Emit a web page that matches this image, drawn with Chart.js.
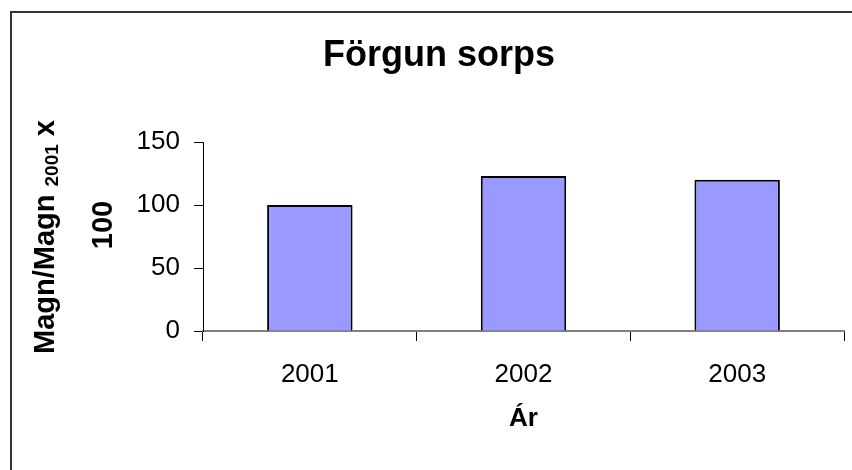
<!DOCTYPE html>
<html>
<head>
<meta charset="utf-8">
<script src="https://cdn.jsdelivr.net/npm/chart.js@4"></script>
<style>
  html, body { margin: 0; padding: 0; background: #fff; }
  #wrap { width: 852px; height: 470px; }
</style>
</head>
<body>
<div id="wrap"><canvas id="myChart" width="852" height="470"></canvas></div>
<script>
const years = ['2001', '2002', '2003'];
const values = [100, 123, 120];
const yTicks = [0, 50, 100, 150];

const chartTitle = 'Förgun sorps';
const xTitle = 'Ár';
const yTitleMain = 'Magn/Magn';
const yTitleSub = '2001';
const yTitleEnd = ' x';
const yTitleLine2 = '100';

const fontFamily = '"Liberation Sans", Arial, sans-serif';

// frame, title and the two-line rotated y title (it has a subscript)
const decorations = {
  id: 'decorations',
  beforeDraw(chart) {
    const ctx = chart.ctx;
    ctx.save();
    ctx.fillStyle = '#fff';
    ctx.fillRect(0, 0, chart.width, chart.height);
    ctx.strokeStyle = '#333';
    ctx.lineWidth = 2;
    ctx.beginPath();
    ctx.moveTo(11, chart.height + 5);
    ctx.lineTo(11, 12);
    ctx.lineTo(chart.width + 5, 12);
    ctx.stroke();
    ctx.restore();
  },
  afterDraw(chart) {
    const ctx = chart.ctx;
    ctx.save();
    ctx.fillStyle = '#000';
    ctx.textAlign = 'center';
    ctx.textBaseline = 'alphabetic';
    ctx.font = 'bold 36px ' + fontFamily;
    ctx.fillText(chartTitle, 439, 66);

    const bigFont = 'bold 29px ' + fontFamily;
    const subFont = 'bold 19px ' + fontFamily;
    ctx.font = bigFont;
    const w1 = ctx.measureText(yTitleMain + ' ').width;
    const w3 = ctx.measureText(yTitleEnd).width;
    ctx.font = subFont;
    const w2 = ctx.measureText(yTitleSub).width;
    const total = w1 + w2 + w3;

    ctx.translate(54, 237);
    ctx.rotate(-Math.PI / 2);
    ctx.textAlign = 'left';
    let x = -total / 2;
    ctx.font = bigFont;
    ctx.fillText(yTitleMain + ' ', x, 0);
    x += w1;
    ctx.font = subFont;
    ctx.fillText(yTitleSub, x, 4);
    x += w2;
    ctx.font = bigFont;
    ctx.fillText(yTitleEnd, x, 0);

    ctx.textAlign = 'center';
    ctx.fillText(yTitleLine2, 12, 58);
    ctx.restore();
  }
};

const ctx = document.getElementById('myChart').getContext('2d');
const chart = new Chart(ctx, {
  type: 'bar',
  data: {
    labels: years,
    datasets: [{
      data: values,
      backgroundColor: '#9999ff',
      borderColor: '#000',
      borderWidth: 2,
      categoryPercentage: 1,
      barPercentage: 0.4
    }]
  },
  options: {
    responsive: false,
    animation: false,
    layout: { padding: { left: 100, right: 8, top: 142, bottom: 0 } },
    plugins: {
      legend: { display: false },
      tooltip: { enabled: false }
    },
    scales: {
      x: {
        offset: true,
        grid: {
          offset: true,
          drawOnChartArea: false,
          drawTicks: true,
          tickLength: 10,
          color: '#000'
        },
        border: { color: '#808080', width: 2 },
        ticks: {
          color: '#000',
          padding: 18,
          font: { family: fontFamily, size: 26 }
        },
        title: {
          display: true,
          text: xTitle,
          color: '#000',
          padding: { top: 0, bottom: 36 },
          font: { family: fontFamily, size: 26, weight: 'bold' }
        },
        afterFit(scale) { scale.height = 139; }
      },
      y: {
        min: 0,
        max: 150,
        afterBuildTicks(scale) {
          scale.ticks = yTicks.map(v => ({ value: v }));
        },
        grid: {
          drawOnChartArea: false,
          drawTicks: true,
          tickLength: 9,
          color: '#000'
        },
        border: { color: '#000', width: 1 },
        ticks: {
          color: '#000',
          padding: 14,
          font: { family: fontFamily, size: 26 }
        },
        afterFit(scale) { scale.width = 103; }
      }
    }
  },
  plugins: [decorations]
});
</script>
</body>
</html>
